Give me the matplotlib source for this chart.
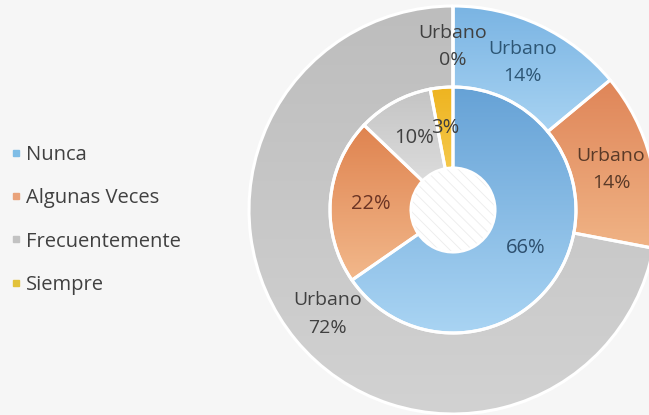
import matplotlib
matplotlib.use("Agg")
import numpy as np
import matplotlib.pyplot as plt
from matplotlib.lines import Line2D
from matplotlib.colors import LinearSegmentedColormap
from matplotlib.patches import Circle

plt.rcParams['font.family'] = ['Open Sans', 'DejaVu Sans']
plt.rcParams['hatch.linewidth'] = 0.6

categories = ['Nunca', 'Algunas Veces', 'Frecuentemente', 'Siempre']
outer_values = [14, 14, 72, 0]
outer_labels = ['Urbano\n14%', 'Urbano\n14%', 'Urbano\n72%', 'Urbano\n0%']
inner_values = [66, 22, 10, 3]
inner_labels = ['66%', '22%', '10%', '3%']

# (top colour, bottom colour) gradient fills
outer_grad = [('#7ab4e3', '#a8d3f2'), ('#df8558', '#f0b385'),
              ('#bdbdbd', '#d2d2d2'), ('#eeb420', '#f5c84a')]
inner_grad = [('#66a2d6', '#a9d4f3'), ('#df834f', '#f2b88b'),
              ('#c4c4c4', '#dcdcdc'), ('#eeb420', '#f5c84a')]
legend_colors = ['#7fbde6', '#e9a27a', '#c2c2c2', '#e2c23a']
outer_text_colors = ['#2d5675', '#5a3a28', '#404040', '#404040']
inner_text_colors = ['#2d4f6e', '#6b3424', '#404040', '#404040']

W, H = 649, 415
fig = plt.figure(figsize=(W / 100, H / 100), dpi=100)
fig.patch.set_facecolor('#f6f6f6')
ax = fig.add_axes([0, 0, 1, 1])

cx, cy = 453, 205
R_out, R_in, R_hole = 204, 123, 42

w1, t1 = ax.pie(outer_values, radius=R_out, center=(cx, cy),
                startangle=90, counterclock=False, labels=outer_labels,
                labeldistance=0.80, frame=True,
                wedgeprops=dict(width=R_out - R_in, edgecolor='white', linewidth=2.2))
w2, t2 = ax.pie(inner_values, radius=R_in, center=(cx, cy),
                startangle=90, counterclock=False, labels=inner_labels,
                labeldistance=0.67, frame=True,
                wedgeprops=dict(width=R_in - R_hole, edgecolor='white', linewidth=2.2))

grad = np.linspace(0, 1, 256).reshape(-1, 1)
for wedges, grads in ((w1, outer_grad), (w2, inner_grad)):
    for w, (top, bottom) in zip(wedges, grads):
        ext = w.get_path().get_extents()
        if ext.width <= 0 or ext.height <= 0:
            continue
        cmap = LinearSegmentedColormap.from_list('g', [bottom, top])
        im = ax.imshow(grad, extent=(ext.x0, ext.x1, ext.y0, ext.y1), origin='lower',
                       cmap=cmap, aspect='auto', zorder=0.5, interpolation='bilinear')
        im.set_clip_path(w)
        w.set_facecolor('none')
        w.set_zorder(1)

hole = Circle((cx, cy), R_hole - 1, facecolor='white', edgecolor='#ececec',
              hatch='\\\\\\', linewidth=0, zorder=1.5)
ax.add_patch(hole)

ax.set_xlim(0, W)
ax.set_ylim(0, H)
ax.set_aspect('equal')
ax.axis('off')

for t, c in zip(t1, outer_text_colors):
    t.set_ha('center'); t.set_va('center'); t.set_color(c)
    t.set_fontsize(14); t.set_linespacing(1.65); t.set_zorder(3)
for t, c in zip(t2, inner_text_colors):
    t.set_ha('center'); t.set_va('center'); t.set_color(c)
    t.set_fontsize(14.5); t.set_zorder(3)

handles = [Line2D([], [], marker='s', ls='none', color=c, markersize=5) for c in legend_colors]
fig.legend(handles, categories, loc='center left', bbox_to_anchor=(0.017, 0.47),
           frameon=False, fontsize=14.5, labelspacing=1.15, handletextpad=0.25,
           handlelength=0.5, borderpad=0, borderaxespad=0, labelcolor='#404040')

fig.savefig('out.png', dpi=100, facecolor=fig.get_facecolor())
